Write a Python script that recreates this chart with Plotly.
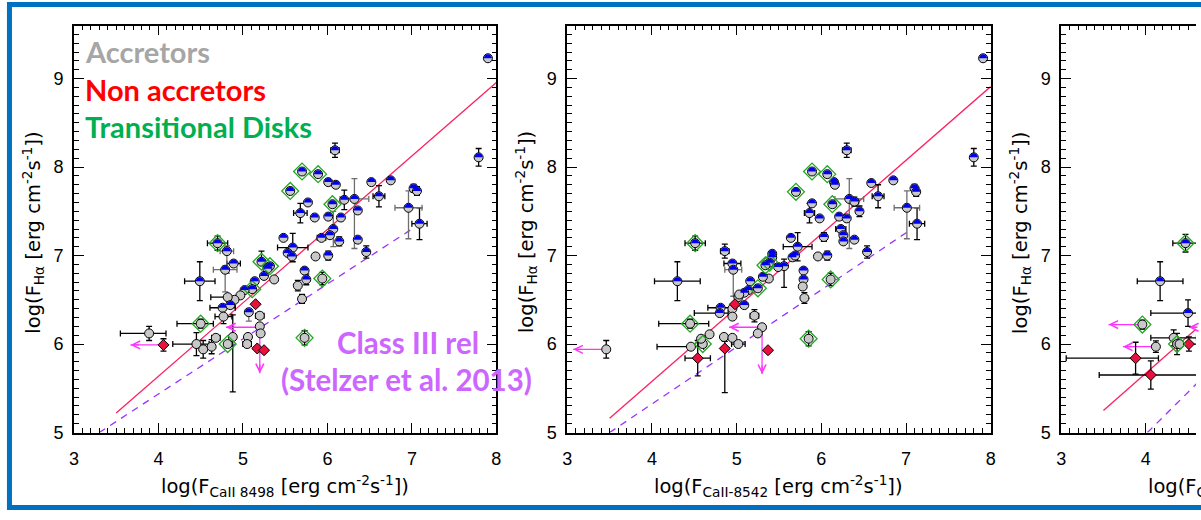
import plotly.graph_objects as go

W, H = 1201, 520

# ------------------------------------------------------------------ data
# kind: 'B' accretor (blue / grey half), 'G' accretor (grey), 'R' non accretor
# td: 1 = transitional disk (green diamond)
# ---- panel 1 : log F(CaII 8498) vs log F(Halpha)
P1_X = [7.90, 7.79, 6.09, 5.70, 5.89, 5.56, 6.01, 6.10, 6.52, 6.75,
        7.02, 7.06, 6.61, 6.32, 6.20, 6.06, 5.77, 5.68, 5.85, 6.01,
        6.16, 6.36, 6.96, 7.09, 6.07, 6.03, 5.93, 6.14, 6.36, 5.48,
        5.59, 5.53, 5.58, 5.86, 6.01, 6.46, 4.70, 4.81, 4.89, 4.79,
        4.49, 5.22, 5.32, 5.29, 5.37, 5.25, 5.14, 5.11, 5.02, 4.97,
        4.90, 4.82, 4.76, 4.85, 4.77, 5.07, 5.15, 5.20, 5.20, 5.21,
        3.89, 4.06, 4.50, 4.45, 4.53, 4.63, 4.68, 4.82, 4.88, 5.06,
        5.05, 5.17, 5.25, 5.65, 5.70, 5.73, 5.73, 5.75, 5.94]
P1_Y = [9.23, 8.11, 8.19, 7.95, 7.92, 7.73, 7.83, 7.80, 7.83, 7.85,
        7.76, 7.73, 7.67, 7.64, 7.63, 7.58, 7.60, 7.48, 7.43, 7.44,
        7.43, 7.51, 7.54, 7.36, 7.30, 7.23, 7.20, 7.16, 7.18, 7.20,
        7.09, 7.03, 6.99, 6.99, 7.00, 7.04, 7.14, 7.05, 6.91, 6.84,
        6.71, 6.93, 6.88, 6.85, 6.73, 6.77, 6.71, 6.62, 6.61, 6.55,
        6.50, 6.53, 6.41, 6.44, 6.31, 6.36, 6.45, 6.32, 6.20, 6.12,
        6.12, 5.99, 6.23, 6.00, 5.94, 5.97, 6.07, 6.00, 6.08, 6.08,
        6.00, 5.95, 5.93, 6.66, 6.51, 6.07, 6.83, 6.73, 6.74]
P1_KIND = ["B", "B", "B", "B", "B", "B", "B", "B", "B", "B",
           "B", "B", "B", "B", "B", "B", "B", "B", "B", "B",
           "B", "B", "B", "B", "B", "B", "B", "B", "B", "B",
           "B", "B", "B", "G", "B", "B", "B", "B", "B", "B",
           "B", "B", "B", "B", "G", "B", "B", "B", "B", "G",
           "G", "G", "B", "B", "G", "B", "R", "G", "G", "G",
           "G", "R", "G", "G", "G", "G", "G", "G", "G", "G",
           "G", "R", "R", "G", "G", "G", "B", "B", "G"]
P1_TD = [0, 0, 0, 1, 1, 1, 0, 0, 0, 0,
         0, 0, 0, 0, 0, 1, 0, 0, 0, 0,
         0, 0, 0, 0, 0, 0, 0, 0, 0, 0,
         0, 0, 0, 0, 0, 0, 1, 0, 0, 0,
         0, 1, 1, 0, 0, 0, 0, 1, 0, 0,
         0, 0, 0, 0, 0, 0, 0, 0, 0, 0,
         0, 0, 1, 0, 0, 0, 0, 1, 0, 0,
         0, 0, 0, 0, 0, 1, 0, 0, 1]
P1_EXM = [0, 0, .05, 0, 0, 0, 0, 0, 0, 0,
          0, 0, .07, .17, 0, 0, 0, .08, 0, 0,
          0, 0, .16, .09, 0, 0, .05, 0, 0, 0,
          .18, 0, 0, 0, 0, 0, .12, .08, .08, .14,
          .18, 0, 0, 0, 0, 0, 0, 0, 0, 0,
          0, .20, .15, 0, .10, 0, 0, .05, 0, 0,
          .34, 0, .28, .28, 0, 0, .05, 0, 0, 0,
          .05, 0, 0, 0, 0, 0, 0, 0, 0]
P1_EXP = [0, 0, .05, 0, 0, 0, 0, 0, 0, 0,
          0, 0, .07, .17, 0, 0, 0, .08, 0, 0,
          0, 0, .16, .09, 0, 0, .05, 0, 0, 0,
          .18, 0, 0, 0, 0, 0, .12, .08, .08, .14,
          .18, 0, 0, 0, 0, 0, 0, 0, 0, 0,
          0, 0, .15, 0, .10, 0, 0, .05, 0, 0,
          .20, 0, .15, .15, 0, 0, .05, 0, 0, 0,
          .05, 0, 0, 0, 0, 0, 0, 0, 0]
P1_EYM = [0, .10, .08, 0, 0, 0, 0, 0, 0, 0,
          .045, .05, .12, .56, .11, 0, 0, .11, 0, 0,
          0, 0, .35, .18, .20, 0, 0, .05, 0, 0,
          .16, 0, 0, 0, .05, .07, .08, .25, 0, .25,
          .22, 0, 0, 0, 0, 0, 0, 0, 0, 0,
          0, 0, 0, 0, .08, .10, 0, 0, 0, 0,
          .08, .07, .05, .13, .10, .08, 0, 0, .62, 0,
          0, 0, 0, .06, .05, .08, 0, .06, .07]
P1_EYP = [0, .10, .08, 0, 0, 0, 0, 0, 0, 0,
          .045, .05, .12, .23, .11, 0, 0, .11, 0, 0,
          0, 0, .19, .18, .20, 0, 0, .05, 0, 0,
          .16, 0, 0, 0, .05, .07, .08, .06, 0, .04,
          .22, .12, 0, 0, 0, 0, 0, 0, 0, 0,
          0, 0, 0, 0, .08, 0, 0, 0, 0, 0,
          .08, .07, .05, .13, .10, .08, 0, 0, .25, 0,
          0, 0, 0, .06, .05, .08, 0, .06, .07]
P1_EGRAY = [0, 0, 0, 0, 0, 0, 0, 0, 0, 0,
            0, 0, 0, 1, 0, 0, 0, 0, 0, 0,
            0, 0, 1, 0, 1, 0, 0, 0, 0, 0,
            0, 0, 0, 0, 0, 0, 0, 1, 0, 1,
            0, 0, 0, 0, 0, 0, 0, 0, 0, 0,
            0, 0, 0, 0, 0, 1, 0, 0, 0, 0,
            0, 0, 0, 0, 0, 0, 0, 0, 0, 0,
            0, 0, 0, 0, 0, 0, 0, 0, 0]
P1_ARR_X0 = [4.06, 5.20, 5.20]
P1_ARR_Y0 = [5.99, 6.19, 6.19]
P1_ARR_X1 = [3.67, 4.80, 5.20]
P1_ARR_Y1 = [5.99, 6.19, 5.67]
P1_FIT_X = [3.50, 8.00]
P1_FIT_Y = [5.22, 8.955]
P1_CL3_X = [3.30, 7.00]
P1_CL3_Y = [5.00, 7.30]

# ---- panel 2 : log F(CaII 8542) vs log F(Halpha)
P2_X = [7.91, 7.80, 6.30, 5.89, 6.07, 5.70, 6.15, 6.16, 6.59, 6.85,
        7.10, 7.12, 6.67, 6.33, 6.39, 6.13, 5.89, 5.86, 5.98, 6.45,
        6.21, 6.30, 7.01, 7.13, 6.23, 6.26, 6.26, 6.39, 6.03, 5.64,
        5.72, 5.66, 5.69, 5.96, 6.07, 6.54, 4.51, 4.86, 4.95, 4.96,
        4.30, 5.56, 5.49, 5.42, 5.42, 5.39, 5.34, 5.38, 5.31, 5.25,
        5.16, 5.14, 5.09, 5.02, 5.03, 4.98, 5.09, 4.81, 4.80, 4.95,
        4.95, 5.21, 5.30, 5.25, 4.45, 3.46, 4.68, 4.46, 4.60, 4.58,
        4.85, 4.95, 5.02, 4.86, 4.54, 5.37, 5.79, 5.79, 5.78, 5.80,
        6.11, 5.85]
P2_Y = [9.23, 8.11, 8.19, 7.95, 7.92, 7.72, 7.83, 7.80, 7.82, 7.85,
        7.76, 7.72, 7.67, 7.64, 7.61, 7.58, 7.59, 7.48, 7.42, 7.50,
        7.44, 7.42, 7.54, 7.36, 7.30, 7.23, 7.16, 7.18, 7.21, 7.20,
        7.10, 6.98, 7.00, 6.99, 7.00, 7.04, 7.14, 7.05, 6.91, 6.84,
        6.71, 6.88, 6.87, 7.02, 6.98, 6.92, 6.89, 6.74, 6.76, 6.63,
        6.71, 6.61, 6.58, 6.53, 6.56, 6.45, 6.44, 6.41, 6.35, 6.40,
        6.31, 6.32, 6.19, 6.12, 6.23, 5.94, 6.11, 5.97, 6.00, 6.06,
        6.08, 6.07, 6.00, 5.95, 5.84, 5.93, 6.83, 6.73, 6.65, 6.52,
        6.73, 6.06]
P2_KIND = ["B", "B", "B", "B", "B", "B", "B", "B", "B", "B",
           "B", "B", "B", "B", "B", "B", "B", "B", "B", "B",
           "B", "B", "B", "B", "B", "B", "B", "B", "B", "B",
           "B", "B", "B", "G", "B", "B", "B", "B", "B", "B",
           "B", "B", "B", "B", "B", "B", "B", "G", "B", "B",
           "B", "B", "B", "G", "G", "R", "B", "B", "B", "G",
           "G", "G", "G", "G", "G", "G", "G", "G", "G", "G",
           "G", "G", "G", "R", "R", "R", "B", "B", "G", "G",
           "G", "G"]
P2_TD = [0, 0, 0, 1, 1, 1, 0, 0, 0, 0,
         0, 0, 0, 0, 0, 1, 0, 0, 0, 0,
         0, 0, 0, 0, 0, 0, 0, 0, 0, 0,
         0, 0, 0, 0, 0, 0, 1, 0, 0, 0,
         0, 0, 0, 0, 0, 1, 1, 0, 0, 1,
         0, 0, 0, 0, 0, 0, 0, 0, 0, 0,
         0, 0, 0, 0, 1, 0, 0, 0, 1, 0,
         0, 0, 0, 0, 0, 0, 0, 0, 0, 0,
         1, 1]
P2_EXM = [0, 0, .05, 0, 0, 0, 0, 0, 0, 0,
          0, 0, .07, .17, .05, 0, 0, .06, 0, 0,
          0, 0, .15, .09, .06, 0, 0, 0, 0, 0,
          .17, 0, 0, 0, 0, 0, .12, .05, .10, .10,
          .27, 0, 0, 0, 0, 0, 0, 0, 0, 0,
          0, 0, 0, 0, 0, 0, 0, .15, .30, 0,
          0, .05, 0, 0, .37, 0, 0, .40, 0, 0,
          0, 0, .08, 0, .15, 0, 0, 0, 0, 0,
          0, 0]
P2_EXP = [0, 0, .05, 0, 0, 0, 0, 0, 0, 0,
          0, 0, .07, .17, .05, 0, 0, .06, 0, 0,
          0, 0, .15, .09, .06, 0, 0, 0, 0, 0,
          .17, 0, 0, 0, 0, 0, .12, .05, .10, .10,
          .27, 0, 0, 0, 0, 0, 0, 0, 0, 0,
          0, 0, 0, 0, 0, 0, 0, .15, .10, 0,
          0, .05, 0, 0, .22, 0, 0, .15, 0, 0,
          0, 0, .08, 0, .15, 0, 0, 0, 0, 0,
          0, 0]
P2_EYM = [0, .10, .08, 0, 0, 0, 0, 0, 0, 0,
          .045, .05, .13, .56, .05, 0, 0, .11, 0, .06,
          0, 0, .35, .18, 0, 0, 0, 0, .05, 0,
          .16, 0, 0, 0, .05, .07, .08, .08, 0, .30,
          .22, .24, 0, 0, 0, 0, 0, 0, 0, 0,
          0, 0, 0, 0, 0, 0, 0, 0, 0, 0,
          0, .07, 0, 0, .05, .10, 0, 0, 0, 0,
          0, 0, 0, .50, .20, 0, 0, 0, 0, .06,
          .07, .08]
P2_EYP = [0, .10, .08, 0, 0, 0, 0, 0, 0, 0,
          .045, .05, .13, .23, .05, 0, 0, .11, 0, .06,
          0, 0, .19, .18, 0, 0, 0, 0, .05, 0,
          .16, 0, 0, 0, .05, .07, .08, .08, 0, 0,
          .22, .08, 0, 0, 0, 0, 0, 0, 0, 0,
          0, 0, 0, 0, 0, 0, 0, 0, 0, 0,
          0, .07, 0, 0, .05, .10, 0, 0, 0, 0,
          0, 0, 0, .08, .20, 0, 0, 0, 0, .06,
          .07, .08]
P2_EGRAY = [0, 0, 0, 0, 0, 0, 0, 0, 0, 0,
            0, 0, 0, 1, 0, 0, 0, 0, 0, 0,
            0, 0, 1, 0, 0, 0, 0, 0, 0, 0,
            0, 0, 0, 0, 0, 0, 0, 0, 0, 1,
            0, 0, 0, 0, 0, 0, 0, 0, 0, 0,
            0, 0, 0, 0, 0, 0, 0, 0, 0, 0,
            0, 0, 0, 0, 0, 0, 0, 0, 0, 0,
            0, 0, 0, 0, 0, 0, 0, 0, 0, 0,
            0, 0]
P2_ARR_X0 = [3.46, 5.30, 5.30]
P2_ARR_Y0 = [5.94, 6.19, 6.19]
P2_ARR_X1 = [3.07, 4.91, 5.30]
P2_ARR_Y1 = [5.94, 6.19, 5.66]
P2_FIT_X = [3.50, 8.00]
P2_FIT_Y = [5.16, 8.91]
P2_CL3_X = [3.50, 7.02]
P2_CL3_Y = [5.00, 7.27]

# ---- panel 3 : log F(CaII 8662) vs log F(Halpha)  (cut at the right edge)
P3_X = [4.47, 4.17, 4.50, 3.96, 4.33, 4.12, 4.37, 4.40, 4.51, 3.88, 4.06, 4.90]
P3_Y = [7.14, 6.71, 6.35, 6.22, 6.07, 5.97, 6.00, 6.00, 6.00, 5.84, 5.65, 6.19]
P3_KIND = ["B", "B", "B", "G", "G", "G", "G", "G", "R", "R", "R", "G"]
P3_TD = [1, 0, 0, 1, 0, 0, 1, 0, 0, 0, 0, 0]
P3_EXM = [.15, .27, .44, 0, .27, 0, 0, 0, .10, .82, .61, 0]
P3_EXP = [.15, .27, .44, 0, .27, 0, 0, 0, .30, .27, .61, 0]
P3_EYM = [.10, .22, .15, .05, .09, .065, .12, 0, .08, .18, .16, 0]
P3_EYP = [.10, .22, .15, .05, .09, .065, .12, 0, .08, .18, .16, 0]
P3_EGRAY = [0, 0, 0, 0, 0, 0, 0, 0, 0, 0, 0, 0]
P3_ARR_X0 = [3.96, 4.12, 4.90, 4.90]
P3_ARR_Y0 = [6.22, 5.97, 6.19, 6.19]
P3_ARR_X1 = [3.56, 3.73, 4.51, 4.90]
P3_ARR_Y1 = [6.22, 5.97, 6.19, 5.66]
P3_FIT_X = [3.50, 8.00]
P3_FIT_Y = [5.25, 9.03]
P3_CL3_X = [4.02, 7.00]
P3_CL3_Y = [5.00, 7.83]

X_TITLES = ["log(F<sub>CaII 8498</sub> [erg cm<sup>-2</sup>s<sup>-1</sup>])",
            "log(F<sub>CaII-8542</sub> [erg cm<sup>-2</sup>s<sup>-1</sup>])",
            "log(F<sub>CaII-8662</sub> [erg cm<sup>-2</sup>s<sup>-1</sup>])"]
Y_TITLE = "log(F<sub>Hα</sub> [erg cm<sup>-2</sup>s<sup>-1</sup>])"
X_RANGE = [[3, 8], [3, 8], [3, 4.594]]
Y_RANGE = [5, 9.6]

# ------------------------------------------------------------------ style
GRAY = "#C8C8C8"
BLUE = "#0000EE"
RED = "#E8103C"
GREEN = "#22A822"
FITCOL = "#FF2060"
CL3COL = "#9933FF"
MAGENTA = "#FF33FF"
FRAME = "#0070C0"
TICKFONT = dict(family="Liberation Sans, Arial, sans-serif", size=18, color="black")
TITLEFONT = dict(family="DejaVu Sans, sans-serif", size=19.5, color="black")

# panel geometry in pixels
PX_LEFT = [69.5, 567.0, 1065.0]
PX_RIGHT = [495.5, 994.0, 1201.0]
PY_TOP, PY_BOT = 26.0, 441.0

PANELS = [
    dict(x=P1_X, y=P1_Y, kind=P1_KIND, td=P1_TD, exm=P1_EXM, exp=P1_EXP,
         eym=P1_EYM, eyp=P1_EYP, eg=P1_EGRAY, ax0=P1_ARR_X0, ay0=P1_ARR_Y0,
         ax1=P1_ARR_X1, ay1=P1_ARR_Y1, fx=P1_FIT_X, fy=P1_FIT_Y, cx=P1_CL3_X, cy=P1_CL3_Y),
    dict(x=P2_X, y=P2_Y, kind=P2_KIND, td=P2_TD, exm=P2_EXM, exp=P2_EXP,
         eym=P2_EYM, eyp=P2_EYP, eg=P2_EGRAY, ax0=P2_ARR_X0, ay0=P2_ARR_Y0,
         ax1=P2_ARR_X1, ay1=P2_ARR_Y1, fx=P2_FIT_X, fy=P2_FIT_Y, cx=P2_CL3_X, cy=P2_CL3_Y),
    dict(x=P3_X, y=P3_Y, kind=P3_KIND, td=P3_TD, exm=P3_EXM, exp=P3_EXP,
         eym=P3_EYM, eyp=P3_EYP, eg=P3_EGRAY, ax0=P3_ARR_X0, ay0=P3_ARR_Y0,
         ax1=P3_ARR_X1, ay1=P3_ARR_Y1, fx=P3_FIT_X, fy=P3_FIT_Y, cx=P3_CL3_X, cy=P3_CL3_Y),
]

fig = go.Figure()
shapes = []
annotations = []

R_HALF = 4.0
K = 0.5523 * R_HALF
HALF_PATH = (f"M{-R_HALF},0 C{-R_HALF},{K} {-K},{R_HALF} 0,{R_HALF} "
             f"C{K},{R_HALF} {R_HALF},{K} {R_HALF},0 Z")


def sel(lst, idx):
    return [lst[k] for k in idx]


for i, p in enumerate(PANELS, start=1):
    xa = "x" if i == 1 else f"x{i}"
    ya = "y" if i == 1 else f"y{i}"
    n = len(p["x"])
    common = dict(xaxis=xa, yaxis=ya, hoverinfo="skip", showlegend=False)

    # reference relations
    fig.add_trace(go.Scatter(x=p["fx"], y=p["fy"], mode="lines",
                             line=dict(color=FITCOL, width=1.3), **common))
    fig.add_trace(go.Scatter(x=p["cx"], y=p["cy"], mode="lines",
                             line=dict(color=CL3COL, width=1.3, dash="7px,6px"), **common))

    # upper-limit arrows (shafts)
    sx, sy = [], []
    for x0, y0, x1, y1 in zip(p["ax0"], p["ay0"], p["ax1"], p["ay1"]):
        sx += [x0, x1, None]
        sy += [y0, y1, None]
    fig.add_trace(go.Scatter(x=sx, y=sy, mode="lines",
                             line=dict(color=MAGENTA, width=1.3), **common))
    for x0, y0, x1, y1 in zip(p["ax0"], p["ay0"], p["ax1"], p["ay1"]):
        dx = 10 if x0 > x1 else (-10 if x0 < x1 else 0)
        dy = -10 if y0 > y1 else (10 if y0 < y1 else 0)
        annotations.append(dict(x=x1, y=y1, xref=xa, yref=ya, ax=dx, ay=dy,
                                text="", showarrow=True, arrowhead=5, arrowsize=1.2,
                                arrowwidth=1.3, arrowcolor=MAGENTA))

    # error bars
    for g, col in ((0, "black"), (1, "#6E6E6E")):
        idx = [k for k in range(n) if p["eg"][k] == g and
               (p["exm"][k] or p["exp"][k] or p["eym"][k] or p["eyp"][k])]
        if not idx:
            continue
        fig.add_trace(go.Scatter(
            x=sel(p["x"], idx), y=sel(p["y"], idx), mode="markers",
            marker=dict(size=2, color="rgba(0,0,0,0)"),
            error_x=dict(type="data", symmetric=False, array=sel(p["exp"], idx),
                         arrayminus=sel(p["exm"], idx), color=col, thickness=1.3, width=3),
            error_y=dict(type="data", symmetric=False, array=sel(p["eyp"], idx),
                         arrayminus=sel(p["eym"], idx), color=col, thickness=1.3, width=3),
            **common))

    # grey circles (accretors)
    idx = [k for k in range(n) if p["kind"][k] in ("B", "G")]
    fig.add_trace(go.Scatter(x=sel(p["x"], idx), y=sel(p["y"], idx), mode="markers",
                             marker=dict(symbol="circle", size=9, color=GRAY,
                                         line=dict(color="black", width=1)), **common))
    # red diamonds (non accretors)
    idx = [k for k in range(n) if p["kind"][k] == "R"]
    fig.add_trace(go.Scatter(x=sel(p["x"], idx), y=sel(p["y"], idx), mode="markers",
                             marker=dict(symbol="diamond", size=8.5, color=RED,
                                         line=dict(color="black", width=1)), **common))
    # transitional disks
    idx = [k for k in range(n) if p["td"][k] == 1]
    fig.add_trace(go.Scatter(x=sel(p["x"], idx), y=sel(p["y"], idx), mode="markers",
                             marker=dict(symbol="diamond-open", size=13, color=GREEN,
                                         line=dict(color=GREEN, width=1.3)), **common))
    # blue upper halves
    for k in range(n):
        if p["kind"][k] == "B":
            shapes.append(dict(type="path", xref=xa, yref=ya, xsizemode="pixel",
                               ysizemode="pixel", xanchor=p["x"][k], yanchor=p["y"][k],
                               path=HALF_PATH, fillcolor=BLUE, line=dict(width=0),
                               layer="above"))

# axes
layout_axes = {}
for i in range(3):
    xname = "xaxis" if i == 0 else f"xaxis{i + 1}"
    yname = "yaxis" if i == 0 else f"yaxis{i + 1}"
    yanchor = "y" if i == 0 else f"y{i + 1}"
    xanchor = "x" if i == 0 else f"x{i + 1}"
    mirror = "allticks" if i < 2 else False
    layout_axes[xname] = dict(
        domain=[PX_LEFT[i] / W, PX_RIGHT[i] / W], range=X_RANGE[i], anchor=yanchor,
        tickmode="linear", tick0=3, dtick=1, ticks="inside", ticklen=10, tickwidth=1.3,
        tickcolor="black", showline=True, linecolor="black", linewidth=1.6,
        mirror="allticks", showgrid=False, zeroline=False, tickfont=TICKFONT,
        ticklabelstandoff=9,
        minor=dict(ticks="inside", ticklen=5, tickwidth=1, tickcolor="black",
                   tick0=3, dtick=0.1))
    layout_axes[yname] = dict(
        domain=[(H - PY_BOT) / H, (H - PY_TOP) / H], range=Y_RANGE, anchor=xanchor,
        tickmode="linear", tick0=5, dtick=1, ticks="inside", ticklen=10, tickwidth=1.3,
        tickcolor="black", showline=True, linecolor="black", linewidth=1.6,
        mirror=mirror, showgrid=False, zeroline=False, tickfont=TICKFONT,
        ticklabelstandoff=5,
        minor=dict(ticks="inside", ticklen=5, tickwidth=1, tickcolor="black",
                   tick0=5, dtick=0.1))

# axis titles (panel 3 title is centred where its full axis would be, cut by the edge)
for i in range(3):
    cx = PX_LEFT[i] + 426.5 / 2
    annotations.append(dict(x=cx / W, y=(H - 496) / H, xref="paper", yref="paper",
                            text=X_TITLES[i], showarrow=False, font=TITLEFONT,
                            xanchor="center", yanchor="middle"))
    annotations.append(dict(x=(PX_LEFT[i] - 41) / W, y=(H - 237) / H, xref="paper",
                            yref="paper", text=Y_TITLE, showarrow=False, font=TITLEFONT,
                            textangle=-90, xanchor="center", yanchor="middle"))

# coloured labels
LABEL_FONT = "Lato, 'Open Sans', sans-serif"
for txt, col, yc in (("Accretors", "#A6A6A6", 52.5), ("Non accretors", "#FF0000", 91.5),
                     ("Transitional Disks", "#00B050", 128.5)):
    annotations.append(dict(x=79 / W, y=(H - yc) / H, xref="paper", yref="paper",
                            text=f"<b>{txt}</b>", showarrow=False,
                            font=dict(family=LABEL_FONT, size=29, color=col),
                            xanchor="left", yanchor="middle"))
for txt, xc, yc in (("Class III rel", 406, 349), ("(Stelzer et al. 2013)", 405.3, 387)):
    annotations.append(dict(x=xc / W, y=(H - yc) / H, xref="paper", yref="paper",
                            text=f"<b>{txt}</b>", showarrow=False,
                            font=dict(family=LABEL_FONT, size=29.5, color="#CC66FF"),
                            xanchor="center", yanchor="middle"))

# blue slide frame
shapes.append(dict(type="rect", xref="paper", yref="paper", x0=4.5 / W, x1=1.05,
                   y0=(H - 517.5) / H, y1=(H - 4.5) / H, line=dict(color=FRAME, width=5),
                   fillcolor="rgba(0,0,0,0)", layer="above"))

fig.update_layout(width=W, height=H, margin=dict(l=0, r=0, t=0, b=0),
                  paper_bgcolor="white", plot_bgcolor="white", showlegend=False,
                  shapes=shapes, annotations=annotations, **layout_axes)

fig.write_html("out.html")
